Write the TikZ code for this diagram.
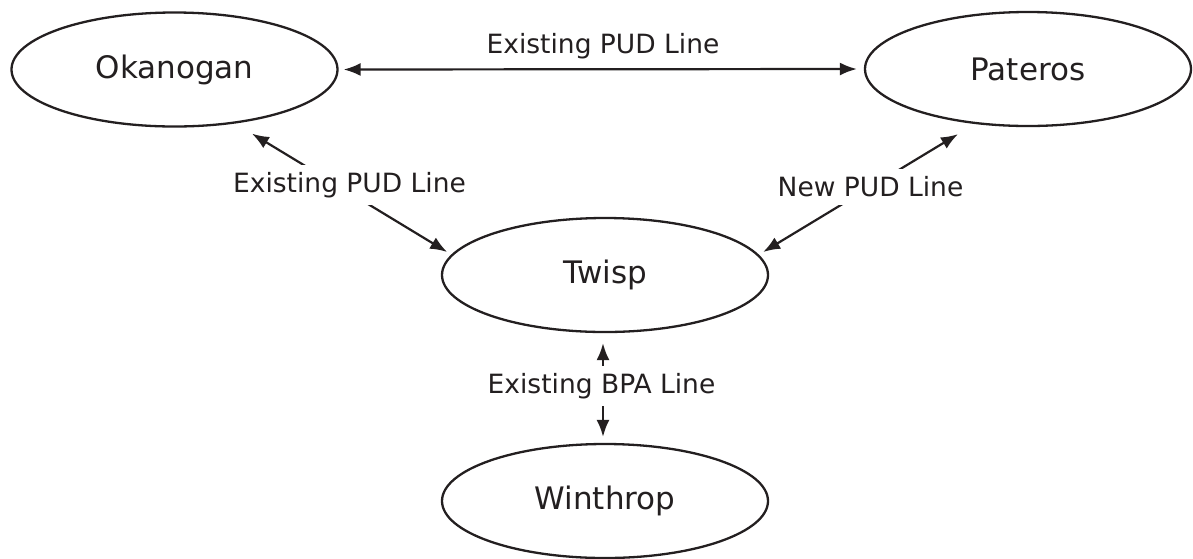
\documentclass[tikz,border=0pt]{standalone}
\usepackage{fontspec}
\setmainfont{DejaVu Sans}
\usetikzlibrary{shapes.geometric,arrows.meta}
\definecolor{ink}{RGB}{35,31,32}
\tikzset{
  place/.style={ellipse,draw=ink,line width=2.3pt,minimum width=326pt,minimum height=114pt,inner sep=0pt,
    text=ink,font=\fontsize{31}{37}\selectfont},
  lbl/.style={fill=white,inner sep=7.5pt,text=ink,font=\fontsize{26.5}{32}\selectfont},
  arr/.style={draw=ink,line width=2.2pt,{Latex[length=17pt,width=13pt]}-{Latex[length=17pt,width=13pt]}}
}
\begin{document}
\begin{tikzpicture}[x=1pt,y=-1pt]
\useasboundingbox (0,0) rectangle (1193,558);
\node[place] (ok) at (174.5,69.5) {Okanogan};
\node[place] (pa) at (1028,69) {Pateros};
\node[place] (tw) at (605,275) {Twisp};
\node[place] (wi) at (605,501) {Winthrop};
% connectors
\draw[arr] ([xshift=5pt]ok.east) -- ([xshift=-7pt]pa.west);
\draw[arr] ([xshift=77.5pt,yshift=-6pt]ok.south) -- ([xshift=6.3pt,yshift=23pt]tw.west);
\draw[arr] ([xshift=-70pt,yshift=-7pt]pa.south) -- ([xshift=-6pt,yshift=23pt]tw.east);
\draw[arr] ([xshift=-2pt,yshift=-10pt]tw.south) -- ([xshift=-2pt,yshift=6pt]wi.north);
% labels
\node[lbl,fill=none] (l1) at (603,46) {Existing PUD Line};
\node[lbl] (l2) at (349.5,185) {Existing PUD Line};
\node[lbl] (l3) at (870.5,187) {New PUD Line};
\node[lbl] (l4) at (601.5,386) {Existing BPA Line};
\end{tikzpicture}
\end{document}
